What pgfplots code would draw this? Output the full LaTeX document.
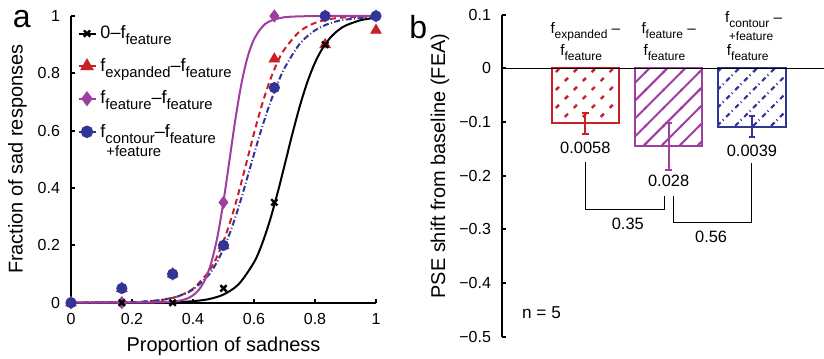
\documentclass[border=0pt]{standalone}
\usepackage{fontspec}
\setmainfont{Liberation Sans}
\usepackage{pgfplots}
\pgfplotsset{compat=1.18}
\usetikzlibrary{patterns}
\definecolor{cred}{RGB}{200,32,40}
\definecolor{cpur}{RGB}{158,62,160}
\definecolor{cblu}{RGB}{49,53,150}
\pgfdeclarepatternformonly{hsolid}{\pgfqpoint{-1pt}{-1pt}}{\pgfqpoint{10pt}{10pt}}{\pgfqpoint{9pt}{9pt}}{%
  \pgfsetlinewidth{1pt}%
  \pgfpathmoveto{\pgfqpoint{-0.5pt}{-0.5pt}}%
  \pgfpathlineto{\pgfqpoint{9.5pt}{9.5pt}}%
  \pgfusepath{stroke}}
\pgfdeclarepatternformonly{hdash}{\pgfqpoint{-1pt}{-1pt}}{\pgfqpoint{10pt}{10pt}}{\pgfqpoint{9pt}{9pt}}{%
  \pgfsetlinewidth{1.2pt}%
  \pgfsetdash{{2.2pt}{4.164pt}}{0pt}%
  \pgfpathmoveto{\pgfqpoint{0pt}{0pt}}%
  \pgfpathlineto{\pgfqpoint{9pt}{9pt}}%
  \pgfusepath{stroke}}
\pgfdeclarepatternformonly{hdashdot}{\pgfqpoint{-1pt}{-1pt}}{\pgfqpoint{10pt}{10pt}}{\pgfqpoint{9pt}{9pt}}{%
  \pgfsetlinewidth{1.1pt}%
  \pgfsetdash{{2.4pt}{1.5pt}{0.5pt}{1.964pt}}{0pt}%
  \pgfpathmoveto{\pgfqpoint{0pt}{0pt}}%
  \pgfpathlineto{\pgfqpoint{9pt}{9pt}}%
  \pgfusepath{stroke}}
\newcommand{\lsub}[1]{\raisebox{-3bp}{\fontsize{7.4bp}{8bp}\selectfont #1}}
\newcommand{\bsub}[1]{\raisebox{-2.5bp}{\fontsize{6bp}{7bp}\selectfont #1}}
\begin{document}
\begin{tikzpicture}
\useasboundingbox (0,0) rectangle (412bp,179.5bp);
% ---------------- panel a
\begin{axis}[
  at={(35.5bp,28.15bp)}, anchor=south west, scale only axis,
  width=152.5bp, height=143.35bp,
  xmin=0, xmax=1, ymin=0, ymax=1,
  axis x line*=bottom, axis y line*=left,
  axis line style={line width=1bp,-},
  tick align=inside, major tick length=2bp, tick style={line width=1bp,black},
  xtick={0,0.2,0.4,0.6,0.8,1}, ytick={0,0.2,0.4,0.6,0.8,1},
  clip=false,
  ticklabel style={font=\fontsize{8bp}{9bp}\selectfont},
  xticklabel style={yshift=-2bp}, yticklabel style={xshift=-2bp},
  /pgf/number format/assume math mode=true,
  xlabel={Proportion of sadness}, ylabel={Fraction of sad responses},
  label style={font=\fontsize{8.9bp}{10bp}\selectfont},
  every axis x label/.style={at={(axis description cs:0.5,0)}, yshift=-22bp, anchor=center},
  every axis y label/.style={at={(axis description cs:0,0.5)}, xshift=-26.75bp, rotate=90, anchor=center},
  legend style={draw=none, fill=none, at={(axis description cs:0.02,0.982)}, anchor=north west,
    font=\fontsize{9bp}{10bp}\selectfont, row sep=4.3bp, inner sep=0pt},
  legend cell align=left,
  legend image code/.code={\draw[mark repeat=2,mark phase=2] plot coordinates {(0cm,0cm) (0.15cm,0cm) (0.3cm,0cm)};},
]
\addlegendimage{black, line width=1bp, mark=x, mark size=2.2bp, mark options={solid,line width=1.2bp}}
\addlegendentry{0–f\lsub{feature}}
\addlegendimage{cred, line width=1bp, dashed, mark=triangle*, mark size=3bp, mark options={solid}}
\addlegendentry{f\lsub{expanded}–f\lsub{feature}}
\addlegendimage{cpur, line width=1bp, mark=diamond*, mark size=3bp, mark options={solid}}
\addlegendentry{f\lsub{feature}–f\lsub{feature}}
\addlegendimage{cblu, line width=1bp, dash pattern=on 3bp off 1.2bp on 0.5bp off 1.2bp, mark=*, mark size=2.6bp, mark options={solid}}
\addlegendentry{\begin{tabular}[t]{@{}l@{}}f\lsub{contour}–f\lsub{feature}\\[-0.5bp]\hspace{3bp}{\fontsize{7.4bp}{8bp}\selectfont +feature}\end{tabular}}
% curves
\addplot[black, line width=1bp, smooth, forget plot] coordinates {
(0,0) (0.2,0.0002) (0.3,0.0009) (0.35,0.0022) (0.4,0.0052) (0.45,0.0121) (0.5,0.0285)
(0.55,0.0648) (0.6,0.1406) (0.625,0.2012) (0.65,0.2793) (0.675,0.3735) (0.7,0.4785)
(0.725,0.5854) (0.75,0.6849) (0.775,0.7698) (0.8,0.8375) (0.825,0.8879) (0.85,0.9241)
(0.875,0.9493) (0.9,0.9665) (0.95,0.9855) (1,0.9939)};
\addplot[cred, line width=1bp, dash pattern=on 3bp off 2bp, smooth, forget plot] coordinates {
(0,0.0001) (0.2,0.0018) (0.25,0.0042) (0.3,0.0097) (0.35,0.0219) (0.4,0.0488) (0.45,0.1062)
(0.475,0.1522) (0.5,0.2142) (0.525,0.2925) (0.55,0.3854) (0.575,0.4875) (0.6,0.5907)
(0.625,0.6863) (0.65,0.7686) (0.675,0.8344) (0.7,0.884) (0.75,0.9463) (0.8,0.9759)
(0.85,0.9893) (0.9,0.9954) (1,0.9991)};
\addplot[cblu, line width=1bp, dash pattern=on 3bp off 1.2bp on 0.5bp off 1.2bp, smooth, forget plot] coordinates {
(0,0.0002) (0.2,0.0025) (0.25,0.005) (0.3,0.0105) (0.35,0.022) (0.4,0.046) (0.45,0.095)
(0.475,0.135) (0.5,0.188) (0.525,0.255) (0.55,0.335) (0.575,0.425) (0.6,0.518)
(0.625,0.607) (0.65,0.688) (0.675,0.758) (0.7,0.818) (0.75,0.903) (0.8,0.95)
(0.85,0.975) (0.9,0.9875) (1,0.997)};
\addplot[cpur, line width=1bp, smooth, forget plot] coordinates {
(0,0) (0.2,0.0001) (0.3,0.0013) (0.35,0.0058) (0.38,0.0142) (0.4,0.0256) (0.42,0.0461)
(0.44,0.0816) (0.46,0.1395) (0.48,0.2294) (0.5,0.353) (0.52,0.5) (0.54,0.647)
(0.56,0.7704) (0.58,0.8606) (0.6,0.9184) (0.625,0.96) (0.65,0.981) (0.7,0.9957)
(0.8,0.9998) (1,1)};
% markers
\addplot[only marks, cred, mark=triangle*, mark size=3bp, forget plot] coordinates {
(0,0) (0.1667,0.05) (0.3333,0.1) (0.5,0.2) (0.6667,0.85) (0.8333,0.9) (1,0.95)};
\addplot[only marks, cpur, mark=diamond*, mark size=3bp, forget plot] coordinates {
(0,0) (0.1667,0) (0.3333,0.1) (0.5,0.35) (0.6667,1) (0.8333,1) (1,1)};
\addplot[only marks, black, mark=x, mark size=2.2bp, mark options={line width=1.2bp}, forget plot] coordinates {
(0,0) (0.1667,0) (0.3333,0) (0.5,0.05) (0.6667,0.35) (0.8333,0.9) (1,1)};
\addplot[only marks, cblu, mark=*, mark size=2.6bp, forget plot] coordinates {
(0,0) (0.1667,0.05) (0.3333,0.1) (0.5,0.2) (0.6667,0.75) (0.8333,1) (1,1)};
\node[anchor=base, font=\fontsize{16bp}{18bp}\selectfont] at (axis description cs:-0.161,0.96) {a};
\end{axis}
% ---------------- panel b
\begin{axis}[
  at={(251bp,11.15bp)}, anchor=south west, scale only axis,
  width=161bp, height=161bp,
  xmin=0, xmax=3.865, ymin=-0.5, ymax=0.1,
  axis y line*=left, axis x line=none,
  axis line style={line width=1bp,-},
  tick align=inside, major tick length=2bp, tick style={line width=1bp,black},
  ytick={-0.5,-0.4,-0.3,-0.2,-0.1,0,0.1},
  yticklabels={−0.5,−0.4,−0.3,−0.2,−0.1,0,0.1},
  clip=false,
  ticklabel style={font=\fontsize{8bp}{9bp}\selectfont},
  yticklabel style={xshift=-2bp},
  ylabel={PSE shift from baseline (FEA)},
  label style={font=\fontsize{8.9bp}{10bp}\selectfont},
  every axis y label/.style={at={(axis description cs:0,0.53)}, xshift=-31bp, rotate=90, anchor=center},
]
\addplot[ybar, bar width=0.81, bar shift=0pt, draw=cred, line width=1bp, fill=white,
  postaction={pattern=hdash, pattern color=cred},
  error bars/.cd, y dir=both, y explicit,
  error bar style={line width=1bp, cred, solid},
  error mark options={rotate=90, mark size=1.7bp, line width=1bp, cred}]
  coordinates {(1,-0.102) +- (0,0.0195)};
\addplot[ybar, bar width=0.81, bar shift=0pt, draw=cpur, line width=1bp, fill=white,
  postaction={pattern=hsolid, pattern color=cpur},
  error bars/.cd, y dir=both, y explicit,
  error bar style={line width=1bp, cpur, solid},
  error mark options={rotate=90, mark size=1.7bp, line width=1bp, cpur}]
  coordinates {(2,-0.1455) +- (0,0.0435)};
\addplot[ybar, bar width=0.81, bar shift=0pt, draw=cblu, line width=1bp, fill=white,
  postaction={pattern=hdashdot, pattern color=cblu},
  error bars/.cd, y dir=both, y explicit,
  error bar style={line width=1bp, cblu, solid},
  error mark options={rotate=90, mark size=1.7bp, line width=1bp, cblu}]
  coordinates {(3,-0.1085) +- (0,0.0195)};
\addplot[black, line width=0.6bp] coordinates {(0,0) (3.865,0)};
\addplot[black, line width=0.5bp] coordinates {(1,-0.1746) (1,-0.263) (1.946,-0.263) (1.946,-0.2385)};
\addplot[black, line width=0.5bp] coordinates {(2.054,-0.2385) (2.054,-0.288) (2.995,-0.288) (2.995,-0.177)};
\begin{scope}[font=\fontsize{8.2bp}{9bp}\selectfont]
\node[anchor=center] at (axis cs:1,-0.148) {0.0058};
\node[anchor=center] at (axis cs:2,-0.2105) {0.028};
\node[anchor=center] at (axis cs:3,-0.153) {0.0039};
\node[anchor=center] at (axis cs:1.51,-0.2894) {0.35};
\node[anchor=center] at (axis cs:2.51,-0.3136) {0.56};
\node[anchor=center, font=\fontsize{8.6bp}{9bp}\selectfont] at (axis cs:0.474,-0.455) {n = 5};
\end{scope}
\begin{scope}[font=\fontsize{7.6bp}{8bp}\selectfont]
\node[anchor=base] at (axis cs:1.0,0.0652) {f\bsub{expanded} –};
\node[anchor=base] at (axis cs:0.95,0.0242) {f\bsub{feature}};
\node[anchor=base] at (axis cs:2.0,0.0652) {f\bsub{feature} –};
\node[anchor=base] at (axis cs:1.95,0.0242) {f\bsub{feature}};
\node[anchor=base] at (axis cs:3.02,0.0863) {f\bsub{contour} –};
\node[anchor=base, font=\fontsize{6bp}{7bp}\selectfont] at (axis cs:2.99,0.052) {+feature};
\node[anchor=base] at (axis cs:2.95,0.0242) {f\bsub{feature}};
\end{scope}
\node[anchor=base, font=\fontsize{16bp}{18bp}\selectfont] at (axis description cs:-0.26,0.925) {b};
\end{axis}
\end{tikzpicture}
\end{document}
